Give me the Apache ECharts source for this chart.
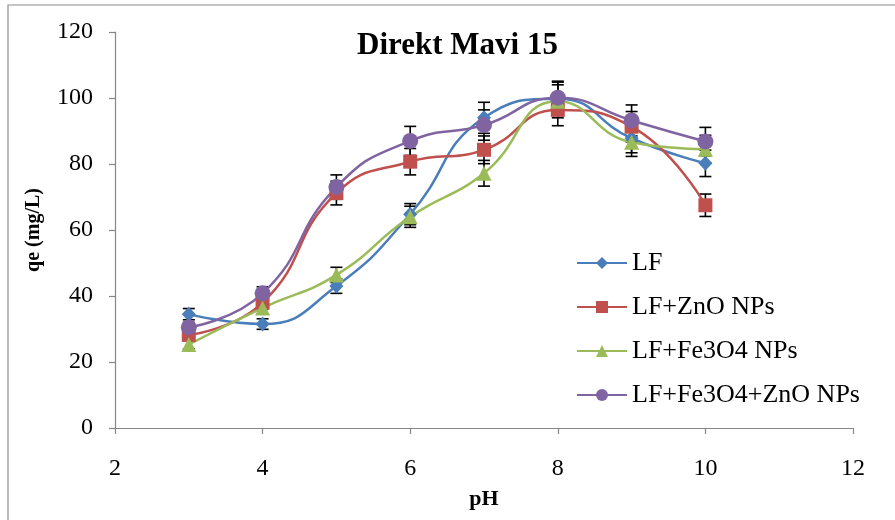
<!DOCTYPE html>
<html>
<head>
<meta charset="utf-8">
<title>Direkt Mavi 15</title>
<script src="https://cdn.jsdelivr.net/npm/echarts@6/dist/echarts.min.js"></script>
<style>
  html, body { margin: 0; padding: 0; background: #fff; }
  #chart { width: 895px; height: 520px; }
</style>
</head>
<body>
<div id="chart"></div>
<script>
// pH values of the adsorption runs
const phValues = [3, 4, 5, 6, 7, 8, 9, 10];

// Adsorbed amount qe (mg/L) for each adsorbent
const seriesNames = ['LF', 'LF+ZnO NPs', 'LF+Fe3O4 NPs', 'LF+Fe3O4+ZnO NPs'];
const qeLF        = [34.5, 31.5, 43.0, 64.8, 94.0, 99.8, 87.8, 80.2];
const qeZnO       = [28.2, 38.0, 71.2, 80.7, 84.3, 96.4, 91.3, 67.5];
const qeFe3O4     = [25.3, 36.4, 46.4, 64.0, 77.2, 99.0, 86.6, 84.5];
const qeFe3O4ZnO  = [30.5, 40.8, 73.0, 87.0, 91.8, 100.1, 93.2, 86.8];

// Error bar half-widths (mg/L)
const errLF       = [1.7, 1.6, 2.2, 3.2, 4.7, 5.0, 4.4, 4.0];
const errZnO      = [1.4, 1.9, 3.6, 4.0, 4.2, 4.8, 4.6, 3.4];
const errFe3O4    = [1.3, 1.8, 2.3, 3.2, 3.9, 5.0, 4.3, 4.2];
const errFe3O4ZnO = [1.5, 2.0, 3.7, 4.4, 4.6, 5.0, 4.7, 4.3];

// Axis ticks
const xTicks = [2, 4, 6, 8, 10, 12];
const yTicks = [0, 20, 40, 60, 80, 100, 120];

const FONT = "'Liberation Serif', 'Times New Roman', serif";
const colors = ['#4A7EBB', '#C0504D', '#9BBB59', '#8064A2'];
const symbols = ['diamond', 'rect', 'triangle', 'circle'];
const symbolSizes = [[14, 15], 14, 15, 16];
const values = [qeLF, qeZnO, qeFe3O4, qeFe3O4ZnO];
const errors = [errLF, errZnO, errFe3O4, errFe3O4ZnO];

const chart = echarts.init(document.getElementById('chart'), null, { renderer: 'canvas' });

function errorBarSeries(vals, errs, idx) {
  return {
    type: 'custom',
    name: 'err' + idx,
    z: 1,
    silent: true,
    data: phValues.map((x, i) => [x, vals[i] - errs[i], vals[i] + errs[i]]),
    renderItem: function (params, api) {
      const lo = api.coord([api.value(0), api.value(1)]);
      const hi = api.coord([api.value(0), api.value(2)]);
      const half = 6;
      const style = { stroke: '#000', lineWidth: 1.6 };
      return {
        type: 'group',
        children: [
          { type: 'line', shape: { x1: lo[0], y1: lo[1], x2: hi[0], y2: hi[1] }, style: style },
          { type: 'line', shape: { x1: lo[0] - half, y1: lo[1], x2: lo[0] + half, y2: lo[1] }, style: style },
          { type: 'line', shape: { x1: hi[0] - half, y1: hi[1], x2: hi[0] + half, y2: hi[1] }, style: style }
        ]
      };
    }
  };
}

const lineSeries = seriesNames.map((name, k) => ({
  type: 'line',
  name: name,
  z: 2,
  smooth: 0.5,
  data: phValues.map((x, i) => [x, values[k][i]]),
  symbol: symbols[k],
  symbolSize: symbolSizes[k],
  showAllSymbol: true,
  lineStyle: { color: colors[k], width: 2.5 },
  itemStyle: { color: colors[k], borderWidth: 0 },
  emphasis: { disabled: true }
}));

const option = {
  animation: false,
  backgroundColor: '#fff',
  textStyle: { fontFamily: FONT },
  title: {
    text: 'Direkt Mavi 15',
    left: 352,
    top: 25,
    textStyle: { fontFamily: FONT, fontSize: 31, fontWeight: 'bold', color: '#000' }
  },
  graphic: [
    {
      type: 'rect',
      shape: { x: 8, y: 5, width: 1000, height: 1000 },
      style: { fill: 'none', stroke: '#8c8c8c', lineWidth: 1.2 },
      silent: true,
      z: -1
    }
  ],
  legend: {
    data: seriesNames,
    orient: 'vertical',
    left: 576,
    top: 249,
    padding: 0,
    itemWidth: 50,
    itemHeight: 15,
    itemGap: 16,
    textStyle: { fontFamily: FONT, fontSize: 26, color: '#000', lineHeight: 28, padding: [0, 0, 0, 0] }
  },
  grid: { left: 115, right: 42, top: 32, bottom: 92, containLabel: false },
  xAxis: {
    type: 'value',
    min: xTicks[0],
    max: xTicks[xTicks.length - 1],
    interval: xTicks[1] - xTicks[0],
    name: 'pH',
    nameLocation: 'middle',
    nameGap: 60,
    nameTextStyle: { fontFamily: FONT, fontSize: 22, fontWeight: 'bold', color: '#000' },
    axisLine: { show: true, onZero: false, lineStyle: { color: '#868686', width: 1.2 } },
    axisTick: { show: true, inside: false, length: 6, lineStyle: { color: '#868686', width: 1.2 } },
    axisLabel: { margin: 29, fontFamily: FONT, fontSize: 24, color: '#000' },
    splitLine: { show: false }
  },
  yAxis: {
    type: 'value',
    min: yTicks[0],
    max: yTicks[yTicks.length - 1],
    interval: yTicks[1] - yTicks[0],
    name: 'qe (mg/L)',
    nameLocation: 'middle',
    nameRotate: 90,
    nameGap: 71,
    nameTextStyle: { fontFamily: FONT, fontSize: 20, fontWeight: 'bold', color: '#000' },
    axisLine: { show: true, lineStyle: { color: '#868686', width: 1.2 } },
    axisTick: { show: true, inside: false, length: 6, lineStyle: { color: '#868686', width: 1.2 } },
    axisLabel: { margin: 22, fontFamily: FONT, fontSize: 24, color: '#000' },
    splitLine: { show: false }
  },
  series: [
    ...values.map((v, k) => errorBarSeries(v, errors[k], k)),
    ...lineSeries
  ]
};

chart.setOption(option);
</script>
</body>
</html>
